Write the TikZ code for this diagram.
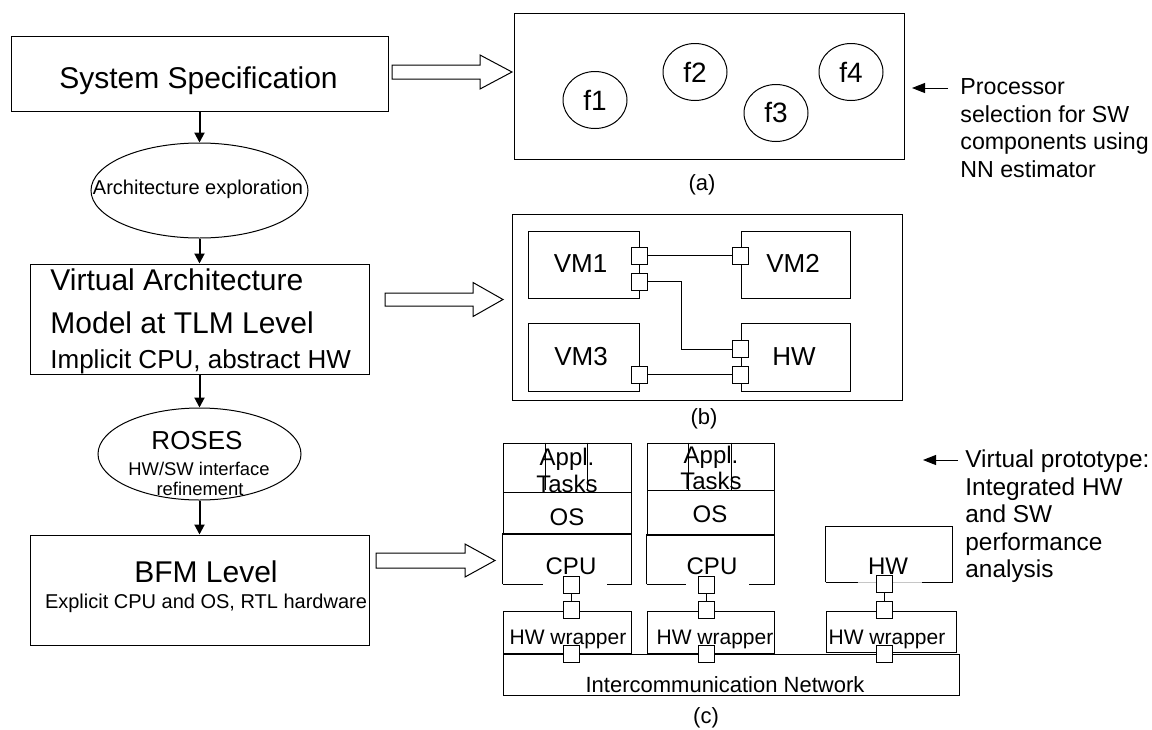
\documentclass[tikz,border=0pt]{standalone}
\usepackage{fontspec}
\setmainfont{Liberation Sans}
\usetikzlibrary{shapes.geometric,arrows.meta}

\begin{document}
\begin{tikzpicture}[x=0.5pt, y=-0.5pt]
    \tikzstyle{every node}=[inner sep=0pt]
    \tikzstyle{box}=[draw, rectangle, line width=0.5pt]
    \tikzstyle{oval}=[draw, ellipse, line width=0.5pt]
    \tikzstyle{port}=[draw, fill=white, line width=0.5pt, minimum width=8pt, minimum height=8.5pt]
    \tikzstyle{flow}=[line width=1pt, -{Triangle[length=5pt,width=5pt]}]
    \tikzstyle{hollow}=[line width=0.5pt]
    \tikzstyle{note}=[line width=0.5pt, -{Triangle[length=6.5pt,width=5pt]}]
    \tikzstyle{big}=[font=\fontsize{15}{18}\selectfont]
    \tikzstyle{mid}=[font=\fontsize{13}{16}\selectfont]
    \tikzstyle{lbl}=[font=\fontsize{12}{14}\selectfont]
    \tikzstyle{sublbl}=[font=\fontsize{11}{13}\selectfont]
    \tikzstyle{small}=[font=\fontsize{10}{12}\selectfont]
    \useasboundingbox (0,0) rectangle (1152,729);

    % design flow on the left
    \node[box, minimum width=188.5pt, minimum height=37.5pt] (spec) at (199.5,73.5) {};
    \node[big, anchor=base] (specT) at (198.5,88.5) {System Specification};
    \node[oval, minimum width=108.5pt, minimum height=47.5pt] (explore) at (199.5,190.5) {};
    \node[small, anchor=base] (exploreT) at (198,194) {Architecture exploration};
    \node[box, minimum width=169.5pt, minimum height=55pt] (vam) at (199.5,319) {};
    \node[big, anchor=base west] (vamA) at (50,290) {Virtual Architecture};
    \node[big, anchor=base west] (vamB) at (50,333) {Model at TLM Level};
    \node[mid, anchor=base west] (vamC) at (50,368) {Implicit CPU, abstract HW};
    \node[oval, minimum width=101.5pt, minimum height=46pt] (roses) at (199.5,454) {};
    \node[mid, anchor=base] (rosesA) at (197,449) {ROSES};
    \node[font=\fontsize{9.2}{11}\selectfont, anchor=base] (rosesB) at (199,475) {HW/SW interface};
    \node[font=\fontsize{9.2}{11}\selectfont, anchor=base] (rosesC) at (200,495) {refinement};
    \node[box, minimum width=169.5pt, minimum height=55pt] (bfm) at (199.5,590) {};
    \node[big, anchor=base] (bfmA) at (206,582) {BFM Level};
    \node[small, anchor=base] (bfmB) at (206,608) {Explicit CPU and OS, RTL hardware};

    \draw[flow] (spec) -- (explore);
    \draw[flow] (explore) -- (vam);
    \draw[flow] (vam) -- (roses);
    \draw[flow] (roses) -- (bfm);

    % hollow arrows
    \draw[hollow] (392,65) -- (480,65) -- (480,55) -- (512,72) -- (480,89) -- (480,79) -- (392,79) -- cycle;
    \draw[hollow] (385,293) -- (473,293) -- (473,282.5) -- (503,299.5) -- (473,316.5) -- (473,306) -- (385,306) -- cycle;
    \draw[hollow] (376,553) -- (465,553) -- (465,544) -- (495,560.5) -- (465,577) -- (465,568) -- (376,568) -- cycle;

    % (a)
    \node[box, minimum width=195pt, minimum height=73pt] (funcs) at (709,86) {};
    \node[oval, minimum width=32pt, minimum height=28.5pt, font=\fontsize{14}{16}\selectfont] (f1) at (595,100) {f1};
    \node[oval, minimum width=32pt, minimum height=28.5pt, font=\fontsize{14}{16}\selectfont] (f2) at (695,72) {f2};
    \node[oval, minimum width=32pt, minimum height=28.5pt, font=\fontsize{14}{16}\selectfont] (f3) at (776,113) {f3};
    \node[oval, minimum width=32pt, minimum height=28.5pt, font=\fontsize{14}{16}\selectfont] (f4) at (851,72) {f4};
    \node[sublbl] (capA) at (702,185) {(a)};

    \node[font=\fontsize{11.6}{13.75}\selectfont, anchor=north west, align=left] (noteA) at (960,78.4)
        {Processor\\selection for SW\\components using\\NN estimator};
    \coordinate (noteAfrom) at (948,88);
    \coordinate (noteAto) at (912,88);
    \draw[note] (noteAfrom) -- (noteAto);

    % (b)
    \node[box, minimum width=195pt, minimum height=93pt] (virt) at (707,307) {};
    \node[box, minimum width=55.5pt, minimum height=33.5pt] (vm1) at (583.5,264.5) {};
    \node[box, minimum width=54.5pt, minimum height=33.5pt] (vm2) at (795.5,264.5) {};
    \node[box, minimum width=55.5pt, minimum height=34pt] (vm3) at (583.5,357) {};
    \node[box, minimum width=54.5pt, minimum height=34pt] (hwb) at (795.5,357) {};
    \node[mid, anchor=base] (vm1T) at (580.5,272) {VM1};
    \node[mid, anchor=base] (vm2T) at (793,272) {VM2};
    \node[mid, anchor=base] (vm3T) at (581,365.5) {VM3};
    \node[mid, anchor=base] (hwbT) at (794,365) {HW};
    \node[port] (pa) at (639,255.5) {};
    \node[port] (pb) at (639,281.5) {};
    \node[port] (pc) at (740,255.5) {};
    \node[port] (pd) at (740,349) {};
    \node[port] (pe) at (740,374.5) {};
    \node[port] (pf) at (639,374.5) {};
    \draw[line width=0.5pt] (pa) -- (pc);
    \draw[line width=0.5pt] (pb.east) -- ++(34,0) |- (pd.west);
    \draw[line width=0.5pt] (pf) -- (pe);
    \node[sublbl] (capB) at (704,419) {(b)};

    % (c)
    \node[box, minimum width=64pt, minimum height=24.5pt] (app1) at (567,467.5) {};
    \node[box, minimum width=64pt, minimum height=21pt] (os1) at (567,513) {};
    \node[minimum width=64pt, minimum height=25pt] (cpu1) at (567,559) {};
    \draw[line width=0.5pt] (cpu1.south west) -- (cpu1.north west) -- (cpu1.north east) -- (cpu1.south east) -- ++(-24,0);
    \draw[line width=0.5pt] (cpu1.south west) -- ++(40,0);
    \draw[line width=0.5pt] (app1.north west) ++(43,0) -- ++(0,47) (app1.north west) ++(85,0) -- ++(0,47);

    \node[box, minimum width=63.5pt, minimum height=23.5pt] (app2) at (710.5,466.5) {};
    \node[box, minimum width=63.5pt, minimum height=22.5pt] (os2) at (710.5,512.5) {};
    \node[minimum width=63.5pt, minimum height=24.5pt] (cpu2) at (710.5,559.5) {};
    \draw[line width=0.5pt] (cpu2.south west) -- (cpu2.north west) -- (cpu2.north east) -- (cpu2.south east) -- ++(-25,0);
    \draw[line width=0.5pt] (cpu2.south west) -- ++(39,0);
    \draw[line width=0.5pt] (app2.north west) ++(42,0) -- ++(0,47) (app2.north west) ++(85,0) -- ++(0,47);

    \node[minimum width=63pt, minimum height=27.5pt] (hw3) at (889,554.5) {};
    \draw[line width=0.5pt] (hw3.south west) -- (hw3.north west) -- (hw3.north east) -- (hw3.south east) -- ++(-30,0);
    \draw[line width=0.5pt] (hw3.south west) -- ++(32,0);
    \draw[line width=0.5pt, gray!45] (hw3.south west) ++(32,0) -- ++(64,0);

    \node[box, minimum width=64pt, minimum height=21pt] (wr1) at (567,632) {};
    \node[box, minimum width=63.5pt, minimum height=21pt] (wr2) at (710.5,632) {};
    \node[box, minimum width=65pt, minimum height=20.5pt] (wr3) at (891,631.5) {};
    \node[box, minimum width=228pt, minimum height=20.5pt] (net) at (731,674.5) {};

    \node[port] (u1) at (571,584.5) {};
    \node[port] (l1) at (571,609.5) {};
    \node[port] (b1) at (571,653.5) {};
    \node[port] (u2) at (706.5,584.5) {};
    \node[port] (l2) at (706.5,609.5) {};
    \node[port] (b2) at (706.5,653.5) {};
    \node[port] (u3) at (884.5,583.5) {};
    \node[port] (l3) at (884.5,610) {};
    \node[port] (b3) at (884.5,653.5) {};
    \draw[line width=0.5pt] (u1) -- (l1);
    \draw[line width=0.5pt] (u2) -- (l2);
    \draw[line width=0.5pt] (u3) -- (l3);

    \node[lbl, anchor=base] (app1A) at (567,465) {Appl.};
    \node[lbl, anchor=base] (app1B) at (567,492) {Tasks};
    \node[lbl, anchor=base] (app2A) at (711,463) {Appl.};
    \node[lbl, anchor=base] (app2B) at (711,489) {Tasks};
    \node[lbl, anchor=base] (os1T) at (567,525) {OS};
    \node[lbl, anchor=base] (os2T) at (710,522) {OS};
    \node[lbl, anchor=base] (cpu1T) at (571,574) {CPU};
    \node[lbl, anchor=base] (cpu2T) at (712,574) {CPU};
    \node[lbl, anchor=base] (hw3T) at (888,574) {HW};
    \node[font=\fontsize{10.5}{12}\selectfont, anchor=base] (wr1T) at (568,644) {HW wrapper};
    \node[font=\fontsize{10.5}{12}\selectfont, anchor=base] (wr2T) at (715,644) {HW wrapper};
    \node[font=\fontsize{10.5}{12}\selectfont, anchor=base] (wr3T) at (887,644) {HW wrapper};
    \node[sublbl, anchor=base] (netT) at (725,692) {Intercommunication Network};
    \node[sublbl] (capC) at (706,718) {(c)};

    \node[font=\fontsize{12.2}{13.75}\selectfont, anchor=north west, align=left] (noteB) at (965,449.5)
        {Virtual prototype:\\Integrated HW\\and SW\\performance\\analysis};
    \coordinate (noteBfrom) at (958,460);
    \coordinate (noteBto) at (923,460);
    \draw[note] (noteBfrom) -- (noteBto);
\end{tikzpicture}
\end{document}
